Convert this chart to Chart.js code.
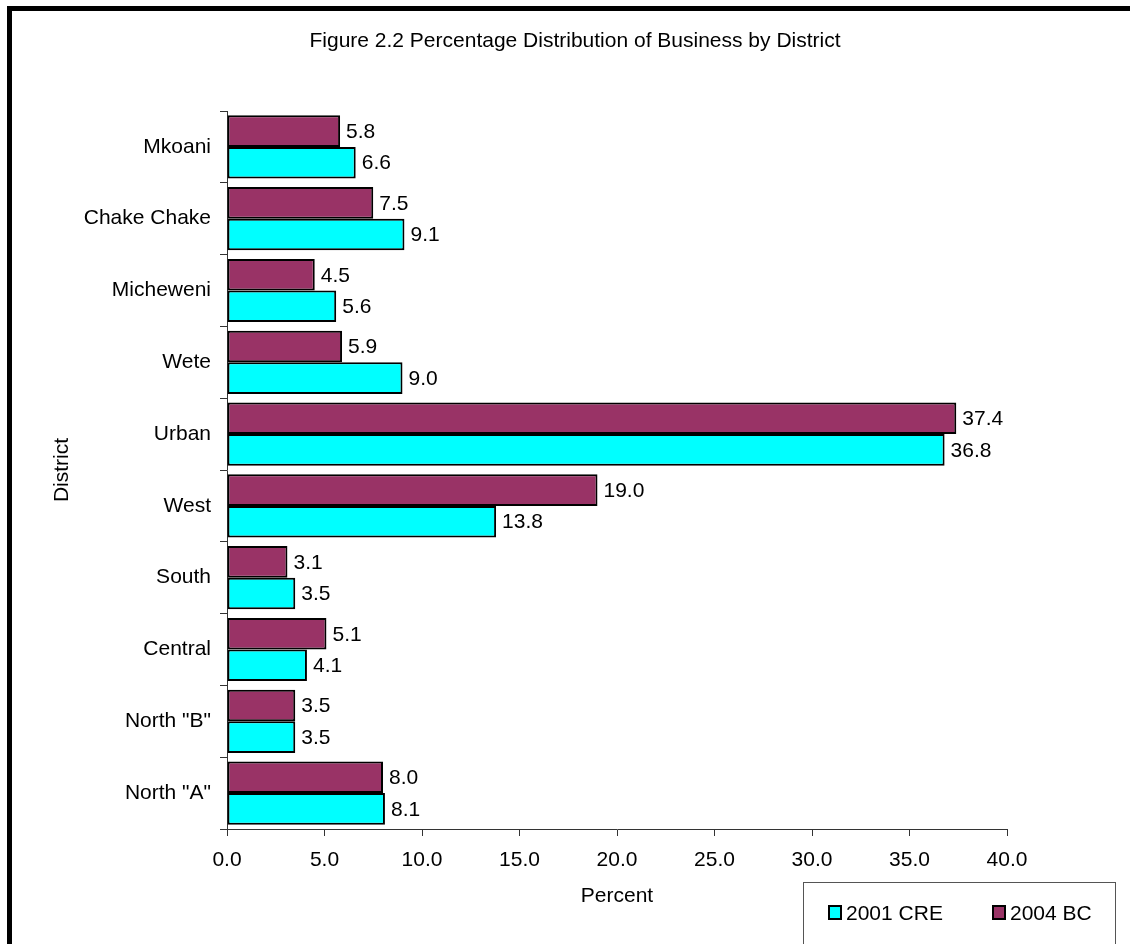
<!DOCTYPE html>
<html>
<head>
<meta charset="utf-8">
<script src="https://cdn.jsdelivr.net/npm/chart.js@4/dist/chart.umd.min.js"></script>
<style>
  html, body { margin: 0; padding: 0; background: #fff; }
  #wrap { width: 1130px; height: 944px; }
</style>
</head>
<body>
<div id="wrap"><canvas id="chart" width="1130" height="944"></canvas></div>
<script>
const districts = ['Mkoani', 'Chake Chake', 'Micheweni', 'Wete', 'Urban', 'West', 'South', 'Central', 'North "B"', 'North "A"'];
const bc2004 = [5.8, 7.5, 4.5, 5.9, 37.4, 19.0, 3.1, 5.1, 3.5, 8.0];
const cre2001 = [6.6, 9.1, 5.6, 9.0, 36.8, 13.8, 3.5, 4.1, 3.5, 8.1];
const xMin = 0, xMax = 40, xStep = 5;
const chartTitle = 'Figure 2.2 Percentage Distribution of Business by District';

const FONT = 'Arial, "Liberation Sans", sans-serif';
const FS = 21;

// white page with the heavy frame on top and left, plus the title
const framePlugin = {
  id: 'frame',
  beforeDraw(chart) {
    const ctx = chart.ctx;
    ctx.save();
    ctx.fillStyle = '#fff';
    ctx.fillRect(0, 0, chart.width, chart.height);
    ctx.fillStyle = '#000';
    ctx.fillRect(7, 6, chart.width - 7, 5);
    ctx.fillRect(7, 6, 5, chart.height - 6);
    ctx.font = FS + 'px ' + FONT;
    ctx.textAlign = 'center';
    ctx.textBaseline = 'middle';
    ctx.fillText(chartTitle, 575, 41);
    ctx.restore();
  }
};

// value labels at the end of each bar
const valueLabels = {
  id: 'valueLabels',
  afterDatasetsDraw(chart) {
    const ctx = chart.ctx;
    ctx.save();
    ctx.font = FS + 'px ' + FONT;
    ctx.fillStyle = '#000';
    ctx.textAlign = 'left';
    ctx.textBaseline = 'middle';
    chart.data.datasets.forEach((ds, i) => {
      chart.getDatasetMeta(i).data.forEach((bar, j) => {
        ctx.fillText(ds.data[j].toFixed(1), bar.x + 6, bar.y + 1);
      });
    });
    ctx.restore();
  }
};

// boxed legend in the bottom right corner
const boxLegend = {
  id: 'boxLegend',
  afterDraw(chart) {
    const ctx = chart.ctx;
    ctx.save();
    ctx.strokeStyle = '#555';
    ctx.lineWidth = 1;
    ctx.strokeRect(803.5, 882.5, 312, 80);
    ctx.font = FS + 'px ' + FONT;
    ctx.textBaseline = 'middle';
    ctx.textAlign = 'left';
    const items = chart.data.datasets.slice().reverse();
    items.forEach((ds, i) => {
      const x = 829 + i * 164;
      const y = 913;
      ctx.fillStyle = ds.backgroundColor;
      ctx.fillRect(x, y - 7, 12, 13);
      ctx.strokeStyle = '#000';
      ctx.lineWidth = 2;
      ctx.strokeRect(x, y - 7, 12, 13);
      ctx.fillStyle = '#000';
      ctx.fillText(ds.label, x + 17, y + 1);
    });
    ctx.restore();
  }
};

new Chart(document.getElementById('chart'), {
  type: 'bar',
  data: {
    labels: districts,
    datasets: [
      {
        label: '2004 BC',
        data: bc2004,
        backgroundColor: '#993366',
        borderColor: '#000',
        borderWidth: 2,
        borderSkipped: false
      },
      {
        label: '2001 CRE',
        data: cre2001,
        backgroundColor: '#00FFFF',
        borderColor: '#000',
        borderWidth: 2,
        borderSkipped: false
      }
    ]
  },
  options: {
    indexAxis: 'y',
    responsive: false,
    animation: false,
    categoryPercentage: 0.88,
    barPercentage: 1.0,
    layout: { padding: { top: 111, right: 123, bottom: 0, left: 0 } },
    plugins: {
      legend: { display: false },
      tooltip: { enabled: false },
      title: { display: false }
    },
    scales: {
      x: {
        type: 'linear',
        min: xMin,
        max: xMax,
        afterFit: s => { s.height = 115; },
        ticks: {
          stepSize: xStep,
          color: '#000',
          padding: 12,
          font: { family: FONT, size: FS },
          callback: v => v.toFixed(1)
        },
        grid: { drawOnChartArea: false, tickLength: 7, color: '#333' },
        border: { color: '#333', width: 1 },
        title: {
          display: true,
          text: 'Percent',
          color: '#000',
          font: { family: FONT, size: FS },
          padding: { top: 0, bottom: 35 }
        }
      },
      y: {
        type: 'category',
        afterFit: s => { s.width = 227; },
        ticks: {
          color: '#000',
          padding: 9,
          font: { family: FONT, size: FS }
        },
        grid: { offset: true, drawOnChartArea: false, tickLength: 7, color: '#333' },
        border: { color: '#333', width: 1 },
        title: {
          display: true,
          text: 'District',
          color: '#000',
          font: { family: FONT, size: FS },
          padding: { top: 50, bottom: 0 }
        }
      }
    }
  },
  plugins: [framePlugin, valueLabels, boxLegend]
});
</script>
</body>
</html>
